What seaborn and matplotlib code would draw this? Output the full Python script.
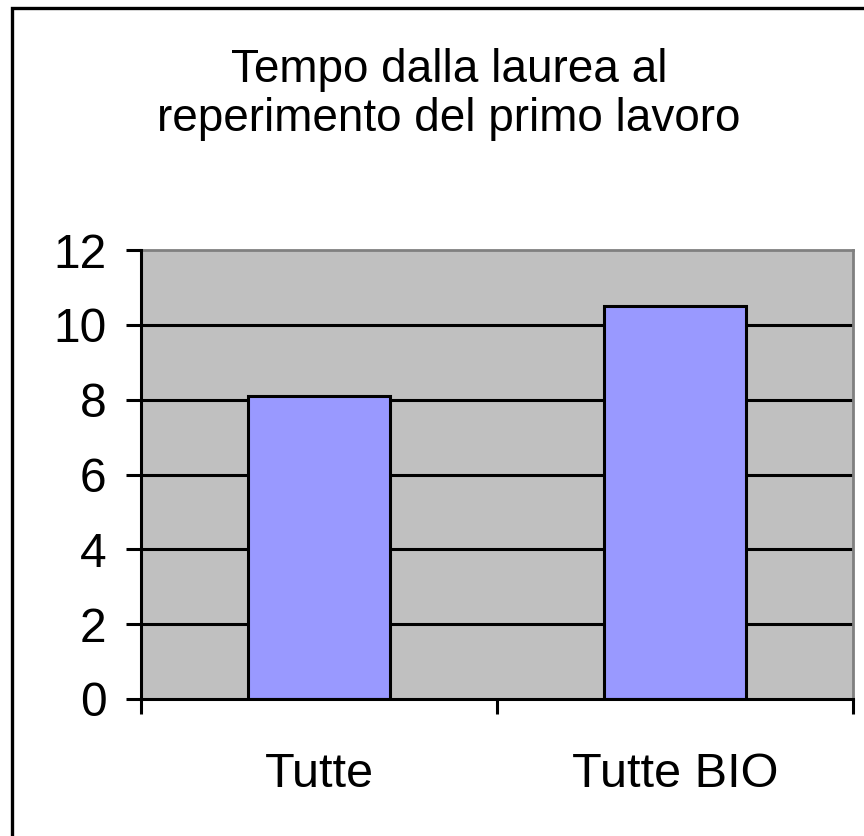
import matplotlib

matplotlib.use("Agg")
import matplotlib.pyplot as plt
import seaborn as sns
from matplotlib.patches import Rectangle
from matplotlib.ticker import FixedLocator
from pandas import DataFrame

categories = ["Tutte", "Tutte BIO"]
values = [8.1, 10.5]
yticks = [0, 2, 4, 6, 8, 10, 12]
title = "Tempo dalla laurea al\nreperimento del primo lavoro"

sns.set_style("white")
plt.rcParams["font.family"] = ["Liberation Sans", "DejaVu Sans"]
plt.rcParams["text.color"] = "black"
plt.rcParams["xtick.color"] = "black"
plt.rcParams["ytick.color"] = "black"

W, H = 864, 836
fig = plt.figure(figsize=(W / 100, H / 100), dpi=100)
ax = fig.add_axes([141 / W, 1 - 699 / H, 712 / W, 449 / H])

df = DataFrame({"cat": categories, "val": values})
sns.barplot(
    data=df,
    x="cat",
    y="val",
    color="#9999FF",
    saturation=1,
    width=0.4,
    edgecolor="black",
    linewidth=2.2,
    zorder=3,
    ax=ax,
)

ax.set_facecolor("#C0C0C0")
ax.set_xlim(-0.5, 1.5)
ax.set_ylim(0, 12)
ax.set_yticks(yticks)
ax.set_xlabel("")
ax.set_ylabel("")

# horizontal grid lines (black), behind the bars
for y in yticks[1:-1]:
    ax.axhline(y, color="black", linewidth=2.2, zorder=1)

for side in ["top", "right"]:
    ax.spines[side].set_color("#808080")
    ax.spines[side].set_linewidth(2)
for side in ["left", "bottom"]:
    ax.spines[side].set_color("black")
    ax.spines[side].set_linewidth(2.2)
    ax.spines[side].set_zorder(4)

ax.tick_params(axis="y", direction="out", length=11, width=2.2, color="black",
               labelsize=34.5, labelcolor="black", pad=14, left=True)
ax.tick_params(axis="x", which="major", length=0, labelsize=35,
               labelcolor="black", pad=38)
ax.xaxis.set_minor_locator(FixedLocator([-0.5, 0.5, 1.5]))
ax.tick_params(axis="x", which="minor", direction="out", length=11, width=2.2,
               color="black", bottom=True)

fig.text(449 / W, 1 - 48 / H, title, ha="center", va="top", fontsize=33,
         color="black", linespacing=1.16)

# outer chart frame
fig.patches.append(Rectangle((12 / W, -0.05), 1.1, 1 - 8 / H + 0.05,
                             transform=fig.transFigure, fill=False,
                             edgecolor="black", linewidth=2.4))

fig.savefig("out.png", dpi=100)
